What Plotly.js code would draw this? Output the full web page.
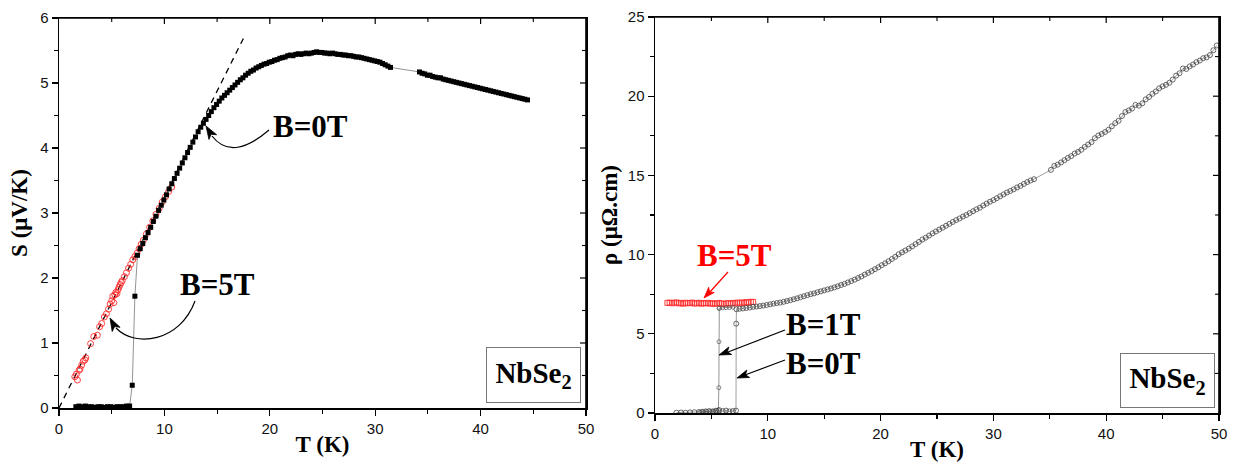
<!DOCTYPE html>
<html>
<head>
<meta charset="utf-8">
<script src="https://cdn.plot.ly/plotly-3.0.1.min.js"></script>
<style>html,body{margin:0;padding:0;background:#fff;}#chart{width:1233px;height:462px;}</style>
</head>
<body>
<div id="chart"></div>
<script>
// ---------- Left panel: thermopower S(T) ----------
const sB0_T = [1.6,1.9,2.2,2.5,2.8,3.1,3.4,3.7,4.0,4.3,4.6,4.9,5.2,5.5,5.8,6.1,6.4,6.7,
  6.95,7.2,7.45,
  7.7,7.95,8.2,8.45,8.7,8.95,9.2,9.45,9.7,9.95,10.2,10.45,10.7,10.95,11.2,11.45,11.7,11.95,
  12.2,12.45,12.7,12.95,13.2,13.45,13.7,13.95,14.2,14.45,14.7,14.95,15.2,15.45,15.7,15.95,
  16.2,16.45,16.7,16.95,17.2,17.45,17.7,17.95,18.2,18.45,18.7,18.95,19.2,19.45,19.7,19.95,
  20.2,20.45,20.7,20.95,21.2,21.45,21.7,21.95,22.2,22.45,22.7,22.95,23.2,23.45,23.7,23.95,
  24.2,24.45,24.7,24.95,25.2,25.45,25.7,25.95,26.2,26.45,26.7,26.95,27.2,27.45,27.7,27.95,
  28.2,28.45,28.7,28.95,29.2,29.45,29.7,29.95,30.2,30.45,30.7,30.95,31.2,31.45,
  34.2,34.45,34.7,34.95,35.2,35.45,35.7,35.95,36.2,36.45,36.7,36.95,37.2,37.45,37.7,37.95,
  38.2,38.45,38.7,38.95,39.2,39.45,39.7,39.95,40.2,40.45,40.7,40.95,41.2,41.45,41.7,41.95,
  42.2,42.45,42.7,42.95,43.2,43.45,43.7,43.95,44.2,44.45];
const sB0_S = [0.02,0.03,0.02,0.03,0.02,0.02,0.01,0.02,0.02,0.01,0.02,0.02,0.01,0.02,0.02,0.02,0.03,0.03,
  0.35,1.72,2.35,
  2.45,2.53,2.62,2.70,2.78,2.87,2.95,3.04,3.12,3.20,3.28,3.37,3.45,3.53,3.61,3.69,3.77,3.85,
  3.93,4.01,4.09,4.17,4.25,4.32,4.38,4.44,4.50,4.56,4.62,4.67,4.72,4.77,4.81,4.85,
  4.89,4.93,4.97,5.01,5.05,5.08,5.12,5.15,5.18,5.20,5.23,5.25,5.27,5.29,5.30,5.32,
  5.33,5.35,5.36,5.38,5.39,5.40,5.42,5.43,5.42,5.44,5.45,5.44,5.45,5.46,5.45,5.46,
  5.47,5.48,5.47,5.47,5.46,5.46,5.45,5.46,5.45,5.44,5.44,5.43,5.43,5.42,5.42,5.41,
  5.40,5.40,5.39,5.38,5.37,5.36,5.35,5.34,5.33,5.32,5.30,5.28,5.26,5.24,
  5.17,5.15,5.14,5.12,5.12,5.10,5.09,5.08,5.08,5.06,5.05,5.04,5.03,5.02,5.01,5.00,
  4.99,4.98,4.97,4.96,4.95,4.94,4.93,4.92,4.91,4.90,4.89,4.88,4.87,4.86,4.85,4.84,
  4.83,4.82,4.81,4.80,4.79,4.78,4.77,4.76,4.75,4.74];

const sB5_T = [1.5,1.65,1.75,1.9,2.0,2.15,2.3,2.45,2.55,3.0,3.3,3.64,3.85,4.05,4.3,4.5,4.7,4.85,5.0,5.1,5.2,5.3,
  5.4,5.5,5.6,5.7,5.8,5.9,6.0,6.2,6.4,6.6,6.8,7.0,7.2,7.4,7.6,7.8,8.0,8.3,8.6,8.9,9.2,9.5,9.8,10.1,10.4,10.7];
const sB5_S = [0.48,0.52,0.43,0.58,0.60,0.66,0.72,0.74,0.77,0.99,1.10,1.12,1.25,1.30,1.40,1.45,1.52,1.60,1.65,1.72,1.62,1.74,
  1.78,1.76,1.82,1.86,1.90,1.93,1.96,2.02,2.08,2.15,2.21,2.28,2.33,2.38,2.45,2.52,2.58,2.68,2.78,2.88,2.98,3.07,3.17,3.25,3.33,3.40];

// linear fit line (dashed)
const fit_T = [0, 17.6];
const fit_S = [0, 5.72];

// ---------- Right panel: resistivity rho(T) ----------
const rB0_T = [1.9,2.3,2.7,3.1,3.5,3.9,4.2,4.5,4.8,5.1,5.4,5.7,6.0,6.3,6.6,6.9,7.18,7.2,7.22,7.5,
  7.8,8.1,8.4,8.7,9.0,9.3,9.6,9.9,10.2,10.5,10.8,11.1,11.4,11.7,12.0,12.3,12.6,12.9,13.2,13.5,
  13.8,14.1,14.4,14.7,15.0,15.3,15.6,15.9,16.2,16.5,16.8,17.1,17.4,17.7,18.0,18.3,18.6,18.9,
  19.2,19.5,19.8,20.1,20.4,20.7,21.0,21.3,21.6,21.9,22.2,22.5,22.8,23.1,23.4,23.7,24.0,24.3,
  24.6,24.9,25.2,25.5,25.8,26.1,26.4,26.7,27.0,27.3,27.6,27.9,28.2,28.5,28.8,29.1,29.4,29.7,
  30.0,30.3,30.6,30.9,31.2,31.5,31.8,32.1,32.4,32.7,33.0,33.3,33.6,
  35.1,35.4,35.7,36.0,36.3,36.6,36.9,37.2,37.5,37.8,38.1,38.4,38.7,39.0,39.3,39.6,39.9,
  40.2,40.5,40.8,41.1,41.4,41.7,42.0,42.3,42.6,42.9,43.2,43.5,43.8,44.1,44.4,44.7,45.0,
  45.3,45.6,45.9,46.2,46.5,46.8,47.1,47.4,47.7,48.0,48.3,48.6,48.9,49.2,49.5,49.8];
const rB0_R = [0.02,0.03,0.02,0.04,0.05,0.06,0.08,0.10,0.12,0.10,0.14,0.18,0.12,0.15,0.10,0.12,0.15,5.64,6.55,6.58,
  6.60,6.63,6.66,6.70,6.72,6.75,6.78,6.82,6.86,6.90,6.94,6.97,7.02,7.07,7.12,7.18,7.24,7.31,7.37,7.44,
  7.50,7.55,7.62,7.68,7.74,7.80,7.86,7.93,8.00,8.08,8.15,8.24,8.33,8.42,8.52,8.62,8.74,8.85,
  8.96,9.08,9.20,9.33,9.45,9.58,9.72,9.86,10.02,10.14,10.26,10.38,10.52,10.66,10.80,10.95,11.07,11.20,
  11.34,11.46,11.58,11.70,11.82,11.94,12.06,12.18,12.28,12.40,12.50,12.62,12.74,12.86,12.96,13.10,13.22,13.34,
  13.44,13.56,13.68,13.80,13.92,14.02,14.12,14.24,14.34,14.46,14.58,14.68,14.76,
  15.35,15.60,15.68,15.82,15.96,16.10,16.22,16.38,16.48,16.62,16.80,16.95,17.10,17.35,17.52,17.62,17.74,
  17.88,18.10,18.30,18.45,18.75,19.00,19.10,19.22,19.45,19.40,19.55,19.80,19.95,20.15,20.30,20.50,20.62,
  20.72,20.85,21.05,21.30,21.45,21.75,21.72,21.88,22.00,22.15,22.25,22.40,22.45,22.60,22.90,23.20];

const rB1_T = [4.0,4.3,4.6,4.9,5.2,5.45,5.62,5.66,5.67,5.68,5.7,6.0,6.3,6.6,6.9];
const rB1_R = [0.05,0.08,0.10,0.10,0.12,0.15,0.20,1.60,4.50,6.60,6.62,6.64,6.65,6.66,6.68];

const rB5_T = [1.1,1.3,1.5,1.7,1.9,2.1,2.3,2.5,2.7,2.9,3.1,3.3,3.5,3.7,3.9,4.1,4.3,4.5,4.7,4.9,
  5.1,5.3,5.5,5.7,5.9,6.1,6.3,6.5,6.7,6.9,7.1,7.3,7.5,7.7,7.9,8.1,8.3,8.5,8.7];
const rB5_R = [6.95,6.97,6.93,6.96,6.98,6.92,6.95,6.90,6.96,6.93,6.94,6.97,6.91,6.93,6.96,6.90,6.94,6.92,6.95,6.90,
  6.93,6.89,6.92,6.95,6.91,6.88,6.92,6.94,6.90,6.95,6.92,6.97,6.93,6.98,6.95,7.00,6.97,7.02,7.01];

// tick values for the inward ticks of the top / right frame edges
const tTicksMajor = [10, 20, 30, 40];
const tTicksMinor = [5, 15, 25, 35, 45];
const sTicksMajor = [1, 2, 3, 4, 5];
const sTicksMinor = [0.5, 1.5, 2.5, 3.5, 4.5, 5.5];
const rTicksMajor = [5, 10, 15, 20];
const rTicksMinor = [2.5, 7.5, 12.5, 17.5, 22.5];

// ---------- geometry helpers (layout only) ----------
const W = 1233, H = 462;
const M = {l: 59, r: 14, t: 17, b: 49};
const PW = W - M.l - M.r, PH = H - M.t - M.b;
const px = x => (x - M.l) / PW;
const py = y => (H - M.b - y) / PH;
const P = (x, y) => px(x).toFixed(5) + ' ' + py(y).toFixed(5);

function arrowHead(tx, ty, fx, fy, len, hw, color) {
  const dx = fx - tx, dy = fy - ty, d = Math.hypot(dx, dy);
  const ux = dx / d, uy = dy / d;
  const bx = tx + ux * len, by = ty + uy * len;
  const nx = -uy * hw, ny = ux * hw;
  return {type: 'path', xref: 'paper', yref: 'paper',
    path: 'M ' + P(tx, ty) + ' L ' + P(bx + nx, by + ny) + ' L ' + P(tx + ux * len * 0.75, ty + uy * len * 0.75) +
          ' L ' + P(bx - nx, by - ny) + ' Z',
    fillcolor: color, line: {color: color, width: 0.8}};
}
function straight(x0, y0, x1, y1, color, w) {
  return {type: 'line', xref: 'paper', yref: 'paper', x0: px(x0), y0: py(y0), x1: px(x1), y1: py(y1),
    line: {color: color, width: w || 1.2}};
}
function pathSeg(x0, y0, x1, y1, w) {
  return {type: 'path', xref: 'paper', yref: 'paper', path: 'M ' + P(x0, y0) + ' L ' + P(x1, y1),
    line: {color: '#000', width: w}};
}

const serif = 'Liberation Serif, Times New Roman, serif';
const sans = 'Liberation Sans, Arial, sans-serif';

const traces = [
  {x: fit_T, y: fit_S, xaxis: 'x', yaxis: 'y', mode: 'lines',
   line: {color: '#000', width: 1.3, dash: '6px,5px'}, hoverinfo: 'skip'},
  {x: sB5_T, y: sB5_S, xaxis: 'x', yaxis: 'y', mode: 'markers',
   marker: {symbol: 'circle-open', size: 6, color: '#ff2a2a', line: {width: 0.9}}},
  {x: sB0_T, y: sB0_S, xaxis: 'x', yaxis: 'y', mode: 'lines+markers',
   line: {color: '#777', width: 0.8},
   marker: {symbol: 'square', size: 5, color: '#000'}},
  {x: rB5_T, y: rB5_R, xaxis: 'x2', yaxis: 'y2', mode: 'markers',
   marker: {symbol: 'square-open', size: 5, color: '#ff2a2a', line: {width: 0.9}}},
  {x: rB1_T, y: rB1_R, xaxis: 'x2', yaxis: 'y2', mode: 'lines+markers',
   line: {color: '#888', width: 0.9},
   marker: {symbol: 'circle-open', size: 4, color: '#555', line: {width: 0.7}}},
  {x: rB0_T, y: rB0_R, xaxis: 'x2', yaxis: 'y2', mode: 'lines+markers',
   line: {color: '#777', width: 0.7},
   marker: {symbol: 'circle-open', size: 5, color: '#444', line: {width: 0.8}}}
];

const tickFont = {family: sans, size: 15, color: '#111'};
const titleFont = {family: serif, size: 23, color: '#000'};
const axBase = {
  showline: true, mirror: true, linecolor: '#000', linewidth: 1.5, zeroline: false, showgrid: false,
  ticks: 'outside', ticklen: 6, tickwidth: 1.2, tickcolor: '#000',
  tickfont: tickFont, automargin: false
};

// pixel frames of the two panels
const boxL = {x0: 59, x1: 586, y0: 18, y1: 408};
const boxR = {x0: 655, x1: 1219, y0: 17, y1: 413};
const xDomL = [px(boxL.x0), px(boxL.x1)], xDomR = [px(boxR.x0), px(boxR.x1)];
const yDomL = [py(boxL.y1), py(boxL.y0)], yDomR = [py(boxR.y1), py(boxR.y0)];

// top/right frame edges with inward ticks, placed from the axis ranges
function frameShapes(b, xmax, ymax, xMaj, xMin, yMaj, yMin) {
  const out = [pathSeg(b.x0, b.y0, b.x1, b.y0, 1.6), pathSeg(b.x1, b.y0, b.x1, b.y1, 1.6)];
  const xAt = v => b.x0 + v / xmax * (b.x1 - b.x0);
  const yAt = v => b.y1 - v / ymax * (b.y1 - b.y0);
  xMaj.forEach(v => out.push(pathSeg(xAt(v), b.y0, xAt(v), b.y0 + 6, 1.2)));
  xMin.forEach(v => out.push(pathSeg(xAt(v), b.y0, xAt(v), b.y0 + 4, 1.1)));
  yMaj.forEach(v => out.push(pathSeg(b.x1, yAt(v), b.x1 - 6, yAt(v), 1.2)));
  yMin.forEach(v => out.push(pathSeg(b.x1, yAt(v), b.x1 - 4, yAt(v), 1.1)));
  return out;
}

const arrowShapes = [
  {type: 'path', xref: 'paper', yref: 'paper', path: 'M ' + P(269, 130) + ' Q ' + P(232, 162) + ' ' + P(212, 136),
   line: {color: '#000', width: 1.2}},
  arrowHead(206, 126, 214, 139, 13, 4.5, '#000'),
  {type: 'path', xref: 'paper', yref: 'paper',
   path: 'M ' + P(195, 301) + ' C ' + P(180, 342) + ' ' + P(135, 348) + ' ' + P(116, 328),
   line: {color: '#000', width: 1.2}},
  arrowHead(110, 318, 117, 331, 13, 4.5, '#000'),
  straight(728, 272, 709, 293, '#ff0000'),
  arrowHead(704, 298, 728, 272, 11, 3.8, '#ff0000'),
  straight(785, 330, 728, 352, '#000'),
  arrowHead(719, 355, 785, 330, 12, 4, '#000'),
  straight(785, 360, 745, 375, '#000'),
  arrowHead(737, 378, 785, 360, 12, 4, '#000')
];

const layout = {
  width: W, height: H, margin: M, showlegend: false,
  paper_bgcolor: '#fff', plot_bgcolor: '#fff',
  xaxis: Object.assign({}, axBase, {domain: xDomL, range: [0, 50], anchor: 'y', tick0: 0, dtick: 10,
    minor: {dtick: 5, ticks: 'outside', ticklen: 4, tickwidth: 1.1, tickcolor: '#000'},
    title: {text: '<b>T (K)</b>', font: titleFont, standoff: 0}}),
  yaxis: Object.assign({}, axBase, {domain: yDomL, range: [0, 6], anchor: 'x', tick0: 0, dtick: 1,
    minor: {dtick: 0.5, ticks: 'outside', ticklen: 4, tickwidth: 1.1, tickcolor: '#000'},
    title: {text: '<b>S (μV/K)</b>', font: titleFont, standoff: 6}}),
  xaxis2: Object.assign({}, axBase, {domain: xDomR, range: [0, 50], anchor: 'y2', tick0: 0, dtick: 10,
    minor: {dtick: 5, ticks: 'outside', ticklen: 4, tickwidth: 1.1, tickcolor: '#000'},
    title: {text: '<b>T (K)</b>', font: titleFont, standoff: 0}}),
  yaxis2: Object.assign({}, axBase, {domain: yDomR, range: [0, 25], anchor: 'x2', tick0: 0, dtick: 5,
    minor: {dtick: 2.5, ticks: 'outside', ticklen: 4, tickwidth: 1.1, tickcolor: '#000'},
    title: {text: '<b>ρ (μΩ.cm)</b>', font: titleFont, standoff: 4}}),
  shapes: arrowShapes
    .concat(frameShapes(boxL, 50, 6, tTicksMajor, tTicksMinor, sTicksMajor, sTicksMinor))
    .concat(frameShapes(boxR, 50, 25, tTicksMajor, tTicksMinor, rTicksMajor, rTicksMinor)),
  annotations: [
    {xref: 'paper', yref: 'paper', x: px(310), y: py(126), text: '<b>B=0T</b>', showarrow: false,
     font: {family: serif, size: 31, color: '#000'}, xanchor: 'center', yanchor: 'middle'},
    {xref: 'paper', yref: 'paper', x: px(217), y: py(284), text: '<b>B=5T</b>', showarrow: false,
     font: {family: serif, size: 31, color: '#000'}, xanchor: 'center', yanchor: 'middle'},
    {xref: 'paper', yref: 'paper', x: px(533.5), y: py(375), text: '<b>NbSe<sub>2</sub></b>', showarrow: false,
     font: {family: serif, size: 29, color: '#000'}, xanchor: 'center', yanchor: 'middle',
     width: 91, height: 52, borderpad: 1, bordercolor: '#777', borderwidth: 1, bgcolor: '#fff'},
    {xref: 'paper', yref: 'paper', x: px(734.5), y: py(255), text: '<b>B=5T</b>', showarrow: false,
     font: {family: serif, size: 31, color: '#ff0000'}, xanchor: 'center', yanchor: 'middle'},
    {xref: 'paper', yref: 'paper', x: px(823), y: py(324), text: '<b>B=1T</b>', showarrow: false,
     font: {family: serif, size: 31, color: '#000'}, xanchor: 'center', yanchor: 'middle'},
    {xref: 'paper', yref: 'paper', x: px(823), y: py(363), text: '<b>B=0T</b>', showarrow: false,
     font: {family: serif, size: 31, color: '#000'}, xanchor: 'center', yanchor: 'middle'},
    {xref: 'paper', yref: 'paper', x: px(1167.5), y: py(380.5), text: '<b>NbSe<sub>2</sub></b>', showarrow: false,
     font: {family: serif, size: 29, color: '#000'}, xanchor: 'center', yanchor: 'middle',
     width: 91, height: 51, borderpad: 1, bordercolor: '#777', borderwidth: 1, bgcolor: '#fff'}
  ]
};

Plotly.newPlot('chart', traces, layout, {staticPlot: true, displayModeBar: false});
</script>
</body>
</html>
